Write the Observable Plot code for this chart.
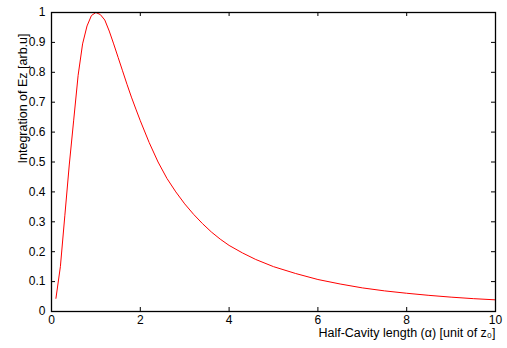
<!DOCTYPE html>
<html>
<head>
<meta charset="utf-8">
<script src="https://cdn.jsdelivr.net/npm/d3@7"></script>
<script src="https://cdn.jsdelivr.net/npm/@observablehq/plot@0.6"></script>
<style>
  html, body { margin: 0; padding: 0; background: #fff; }
  svg { display: block; }
</style>
</head>
<body>
<div id="chart"></div>
<script>
const alpha = [0.1, 0.2, 0.3, 0.4, 0.5, 0.6, 0.7, 0.8, 0.9, 1.0, 1.1, 1.2, 1.3, 1.4, 1.5, 1.6, 1.7, 1.8, 1.9, 2.0, 2.2, 2.4, 2.6, 2.8, 3.0, 3.2, 3.4, 3.6, 3.8, 4.0, 4.3, 4.6, 5.0, 5.5, 6.0, 6.5, 7.0, 7.5, 8.0, 8.5, 9.0, 9.5, 10.0];
const ez = [0.044, 0.15, 0.32, 0.49, 0.64, 0.79, 0.895, 0.955, 0.99, 1.0, 0.993, 0.975, 0.938, 0.895, 0.85, 0.805, 0.76, 0.717, 0.677, 0.638, 0.565, 0.50, 0.445, 0.40, 0.36, 0.325, 0.294, 0.266, 0.242, 0.221, 0.196, 0.174, 0.15, 0.127, 0.107, 0.092, 0.079, 0.069, 0.061, 0.054, 0.048, 0.043, 0.039];
const xTicks = [0, 2, 4, 6, 8, 10];
const yTicks = [0, 0.1, 0.2, 0.3, 0.4, 0.5, 0.6, 0.7, 0.8, 0.9, 1];
const xLabel = "Half-Cavity length (\u03b1) [unit of z\u2080]";
const yLabel = "Integration of Ez [arb.u]";

const data = alpha.map((a, i) => ({a, v: ez[i]}));
const font = "Liberation Sans, Arial, Helvetica, sans-serif";
const fmt = d => String(d);

const chart = Plot.plot({
  width: 507,
  height: 348,
  marginLeft: 51,
  marginRight: 12,
  marginTop: 12,
  marginBottom: 37,
  style: {fontFamily: font, fontSize: "12px", color: "#000", background: "#fff"},
  x: {domain: [0, 10]},
  y: {domain: [0, 1]},
  marks: [
    Plot.axisX({ticks: xTicks, anchor: "bottom", tickSize: 0, tickPadding: 4, tickFormat: fmt, label: null, fontSize: 12}),
    Plot.axisY({ticks: yTicks, anchor: "left", tickSize: 0, tickPadding: 6, tickFormat: fmt, label: null, fontSize: 12}),
    // inward ticks on all four sides (gnuplot style, mirrored)
    Plot.tickX(xTicks, {x: d => d, insetTop: 295, stroke: "#000", strokeWidth: 1}),
    Plot.tickX(xTicks, {x: d => d, insetBottom: 295, stroke: "#000", strokeWidth: 1}),
    Plot.tickY(yTicks, {y: d => d, insetRight: 440, stroke: "#000", strokeWidth: 1}),
    Plot.tickY(yTicks, {y: d => d, insetLeft: 440, stroke: "#000", strokeWidth: 1}),
    Plot.line(data, {x: "a", y: "v", stroke: "#ff0000", strokeWidth: 1}),
    Plot.frame({stroke: "#000", strokeWidth: 1.3}),
    Plot.text([yLabel], {frameAnchor: "top-left", rotate: -90, textAnchor: "end", dx: -33, dy: 21, fontSize: 12.5, fill: "#000"}),
    Plot.text([xLabel], {frameAnchor: "bottom-right", textAnchor: "end", dy: 25, fontSize: 12.5, fill: "#000"})
  ]
});
document.getElementById("chart").appendChild(chart);
</script>
</body>
</html>
